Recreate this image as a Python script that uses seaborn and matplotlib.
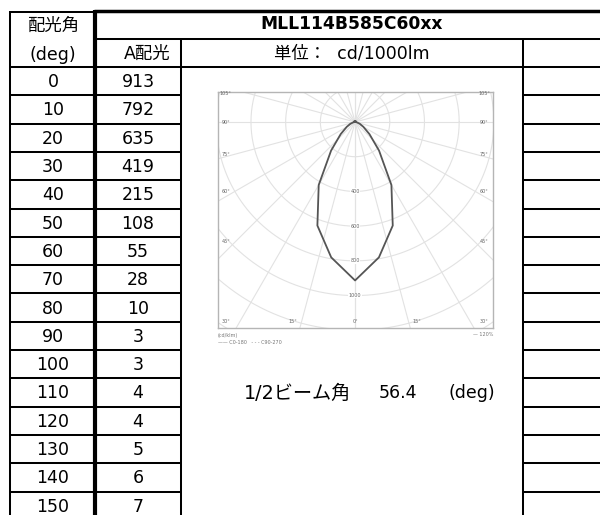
import numpy as np
import pandas as pd
import seaborn as sns
import matplotlib.pyplot as plt

# table data
angles = [0, 10, 20, 30, 40, 50, 60, 70, 80, 90, 100, 110, 120, 130, 140, 150]
values_a = [913, 792, 635, 419, 215, 108, 55, 28, 10, 3, 3, 4, 4, 5, 6, 7]
model = "MLL114B585C60xx"
unit_text = "単位：  cd/1000lm"
col1_head = ["配光角", "(deg)"]
col2_head = "A配光"
beam_label = "1/2ビーム角"
beam_value = 56.4
beam_unit = "(deg)"

# polar chart labels
ring_labels = [400, 600, 800, 1000]
side_angles = [105, 90, 75, 60, 45, 30]
bottom_angles = [-15, 0, 15]


def draw_table(ax):
    row_h = 28.3
    y0 = 67
    n = len(angles)
    lw = 1.45
    # top border
    ax.hlines(11, 94, 600, color="black", lw=2.5)
    ax.hlines(11.5, 10, 94, color="black", lw=lw)
    ax.hlines(39, 94, 600, color="black", lw=lw)
    ax.hlines(y0, 10, 600, color="black", lw=lw)
    for k in range(1, n + 1):
        y = y0 + k * row_h
        ax.hlines(y, 10, 181, color="black", lw=lw)
        ax.hlines(y, 523, 600, color="black", lw=lw)
    ax.vlines(10, 11, 515, color="black", lw=lw)
    ax.vlines(95, 10, 515, color="black", lw=3.0)
    ax.vlines(181, 39, 515, color="black", lw=lw)
    ax.vlines(523, 39, 515, color="black", lw=lw)

    ax.text(53, 26, col1_head[0], ha="center", va="center", fontsize=12.5)
    ax.text(53, 55, col1_head[1], ha="center", va="center", fontsize=12.5)
    ax.text(147, 54, col2_head, ha="center", va="center", fontsize=12.5)
    ax.text(352, 24, model, ha="center", va="center", fontsize=12.3, fontweight="bold")
    ax.text(352, 53, unit_text, ha="center", va="center", fontsize=12.5)

    for k, (a, v) in enumerate(zip(angles, values_a)):
        yc = y0 + (k + 0.5) * row_h + 1
        ax.text(53, yc, str(a), ha="center", va="center", fontsize=12.5)
        ax.text(138, yc, str(v), ha="center", va="center", fontsize=12.5)

    yb = y0 + 11.5 * row_h + 1
    ax.text(244, yb, beam_label, ha="left", va="center", fontsize=13.8)
    ax.text(379, yb, f"{beam_value}", ha="left", va="center", fontsize=12.5)
    ax.text(448, yb, beam_unit, ha="left", va="center", fontsize=12.5)

    # tiny legend text under the chart
    ax.text(218, 335, "(cd/klm)", ha="left", va="center", fontsize=3.5, color="#777777")
    ax.text(218, 342, "—— C0-180   - - - C90-270", ha="left", va="center",
            fontsize=3.5, color="#777777")
    ax.text(493, 335, "— 120%", ha="right", va="center", fontsize=3.5, color="#777777")


def draw_polar(axc):
    grid = "#e2e2e2"
    th = np.linspace(0, 2 * np.pi, 361)
    for r in range(200, 1600, 200):
        axc.plot(r * np.cos(th), r * np.sin(th), color=grid, lw=0.8, zorder=1)
    for a in range(0, 181, 15):
        t = np.radians(a)
        for sgn in (1, -1):
            axc.plot([0, sgn * 3000 * np.sin(t)], [0, -3000 * np.cos(t)],
                     color=grid, lw=0.8, zorder=1)

    # curve: mirror the measured half
    th_deg = [-a for a in angles[::-1]] + angles[1:]
    vals = values_a[::-1] + values_a[1:]
    rad = np.radians(th_deg)
    df = pd.DataFrame({
        "x": np.array(vals) * np.sin(rad),
        "y": -np.array(vals) * np.cos(rad),
    })
    sns.lineplot(data=df, x="x", y="y", sort=False, ax=axc, color="#555555",
                 lw=1.3, zorder=3)

    for r in ring_labels:
        axc.text(0, -r, str(r), ha="center", va="center", fontsize=3.5,
                 color="#666666", zorder=4,
                 bbox=dict(fc="white", ec="none", pad=0.3))
    for a in side_angles:
        y = -690 / np.tan(np.radians(a))
        y = min(max(y, -1150), 165)
        for sgn in (-1, 1):
            axc.text(sgn * 745, y, f"{a}°", ha="center", va="center",
                     fontsize=3.5, color="#666666", zorder=4)
    for a in bottom_angles:
        x = 1190 * np.tan(np.radians(a)) * 1.12
        axc.text(x, -1150, f"{abs(a)}°", ha="center", va="center",
                 fontsize=3.5, color="#666666", zorder=4)

    axc.set_xlim(-790, 795)
    axc.set_ylim(-1187, 173)
    axc.set_xlabel("")
    axc.set_ylabel("")
    axc.set_xticks([])
    axc.set_yticks([])
    for sp in axc.spines.values():
        sp.set_color("#b5b5b5")
        sp.set_linewidth(1.0)


sns.set_theme(style="white")
plt.rcParams["font.family"] = ["DejaVu Sans", "Noto Sans CJK JP"]
plt.rcParams["text.color"] = "black"

fig = plt.figure(figsize=(6, 5.15), dpi=100)
ax = fig.add_axes([0, 0, 1, 1])
ax.set_xlim(0, 600)
ax.set_ylim(515, 0)
ax.axis("off")
draw_table(ax)

W, H = 600, 515
axc = fig.add_axes([218 / W, (H - 328) / H, 275 / W, 236 / H])
draw_polar(axc)

fig.savefig("out.png", dpi=100)
